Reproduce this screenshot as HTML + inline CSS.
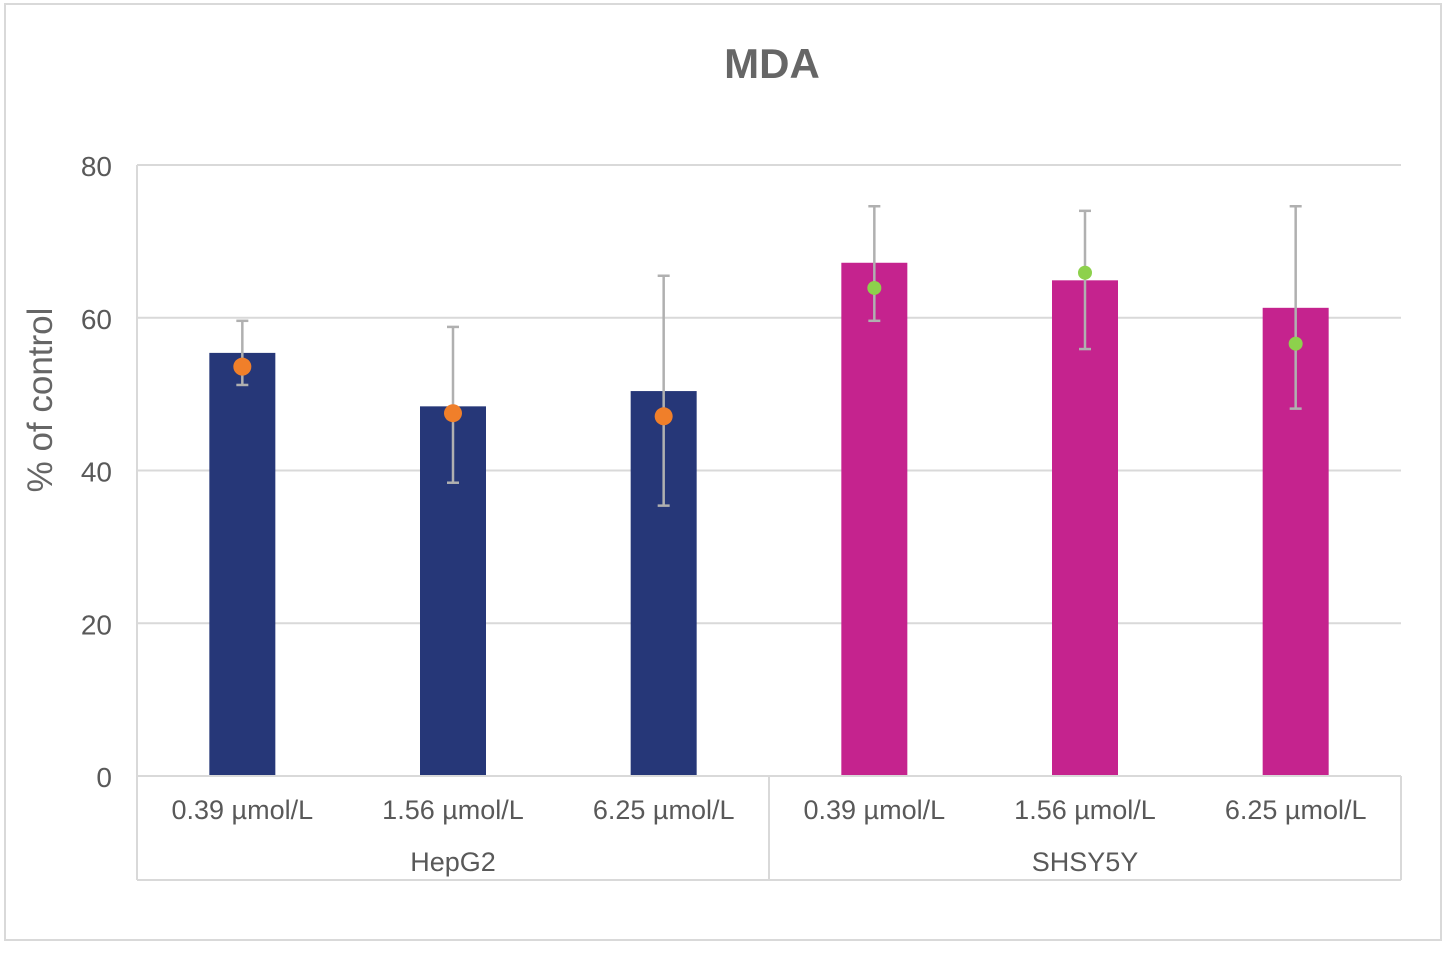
<!DOCTYPE html>
<html><head><meta charset="utf-8"><style>
body{margin:0;background:#fff;width:1448px;height:950px;overflow:hidden;font-family:"Liberation Sans",sans-serif}
</style></head><body>
<svg id="chart" width="1448" height="950" xmlns="http://www.w3.org/2000/svg">
<rect x="5" y="4" width="1436" height="936" fill="#fff" stroke="#d9d9d9" stroke-width="2"/>
<text x="772" y="78" text-anchor="middle" font-size="42" font-weight="bold" fill="#666">MDA</text>
<text transform="translate(52,400) rotate(-90)" text-anchor="middle" font-size="35" fill="#666">% of control</text>
<g id="grid"></g><g id="marks"></g><g id="axis"></g>
</svg>
<script>
const categories=["0.39 µmol/L","1.56 µmol/L","6.25 µmol/L","0.39 µmol/L","1.56 µmol/L","6.25 µmol/L"];
const groups=["HepG2","SHSY5Y"];
const barValues=[55.4,48.4,50.4,67.2,64.9,61.3];
const dotValues=[53.6,47.5,47.1,63.9,65.9,56.6];
const errHigh=[59.6,58.8,65.5,74.6,74.0,74.6];
const errLow=[51.2,38.4,35.4,59.6,55.9,48.1];
const yTicks=[0,20,40,60,80];
const NS="http://www.w3.org/2000/svg";
const x0=137,x1=1401,y0=776,yTop=165;
const y=v=>y0-(v/80)*(y0-yTop);
const bw=(x1-x0)/categories.length;
const cx=i=>x0+bw*(i+0.5);
function mk(p,t,a){const e=document.createElementNS(NS,t);for(const k in a)e.setAttribute(k,a[k]);p.appendChild(e);return e;}
const grid=document.getElementById('grid'),marks=document.getElementById('marks'),axis=document.getElementById('axis');
yTicks.forEach(t=>{
  if(t>0){const l=mk(grid,'line',{x1:x0,x2:x1,y1:y(t),y2:y(t),stroke:'#d9d9d9','stroke-width':2});
  
  }
  const tx=mk(axis,'text',{x:112,y:y(t)+11,'text-anchor':'end','font-size':28,fill:'#595959'});
  tx.textContent=t;
  
  
});
const yl=mk(axis,'line',{x1:x0,x2:x0,y1:yTop,y2:y0,stroke:'#d9d9d9','stroke-width':2});


categories.forEach((c,i)=>{
  const col=i<3?'#263778':'#c5238e';
  const b=mk(marks,'rect',{x:cx(i)-33,y:y(barValues[i]),width:66,height:y0-y(barValues[i]),fill:col});
  
  
  const g=mk(marks,'g',{stroke:'#b0b0b0','stroke-width':2.5});
  
  
  mk(g,'line',{x1:cx(i),x2:cx(i),y1:y(errHigh[i]),y2:y(errLow[i])});
  mk(g,'line',{x1:cx(i)-6,x2:cx(i)+6,y1:y(errHigh[i]),y2:y(errHigh[i])});
  mk(g,'line',{x1:cx(i)-6,x2:cx(i)+6,y1:y(errLow[i]),y2:y(errLow[i])});
  const d=mk(marks,'circle',{cx:cx(i),cy:y(dotValues[i]),r:i<3?9:7,fill:i<3?'#f07f2a':'#8dd14c'});
  
  
  const t=mk(axis,'text',{x:cx(i),y:819,'text-anchor':'middle','font-size':27,fill:'#595959'});
  t.textContent=c;
  
  
});
[[x0,y0,x1,y0],[x0,880,x1,880],[x0,y0,x0,880],[x1,y0,x1,880],[(x0+x1)/2,y0,(x0+x1)/2,880]].forEach(p=>{
  const l=mk(axis,'line',{x1:p[0],y1:p[1],x2:p[2],y2:p[3],stroke:'#d9d9d9','stroke-width':2});
  
  
});
groups.forEach((g,i)=>{
  const t=mk(axis,'text',{x:x0+(x1-x0)/4*(2*i+1),y:871,'text-anchor':'middle','font-size':27,fill:'#595959'});
  t.textContent=g;
  
  
});
</script>
</body></html>
